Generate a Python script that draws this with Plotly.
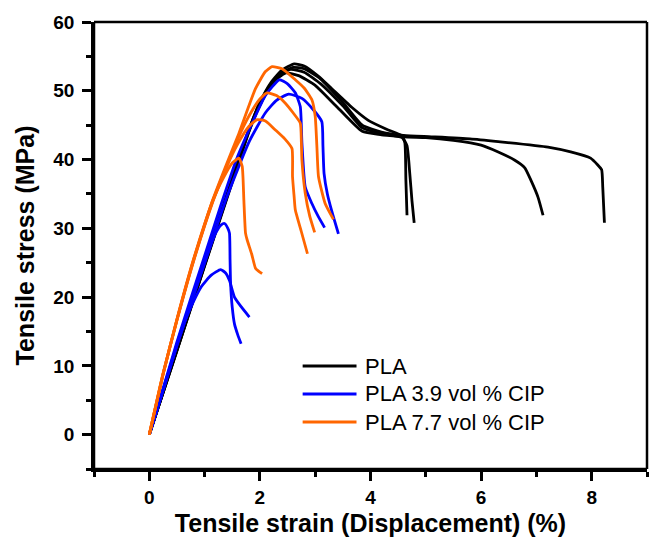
import plotly.graph_objects as go

# ---------------- data ----------------
# PLA (black)
pla_a_x = [0, 0.5, 1.0, 1.5, 1.8, 2.0, 2.2, 2.4, 2.62, 2.8, 3.06, 3.3, 3.66, 3.96, 4.32, 4.56, 4.62, 4.64, 4.66]
pla_a_y = [0, 12.3, 24.7, 37.0, 44.3, 48.3, 51.2, 53.0, 53.9, 53.6, 52.1, 50.3, 47.6, 45.7, 44.3, 43.5, 42.5, 37.0, 31.9]
pla_b_x = [0, 0.5, 1.0, 1.5, 1.8, 2.0, 2.2, 2.47, 2.7, 3.0, 3.4, 3.85, 4.2, 4.57, 4.66, 4.71, 4.75, 4.79]
pla_b_y = [0, 12.5, 25.0, 37.3, 44.3, 48.3, 51.0, 52.6, 52.2, 50.8, 47.6, 44.1, 43.6, 43.2, 42.0, 38.0, 34.0, 30.8]
pla_c_x = [0, 0.5, 1.0, 1.5, 1.8, 2.0, 2.2, 2.4, 2.56, 2.8, 3.1, 3.5, 3.85, 4.2, 4.6, 5.0, 5.5, 6.0, 6.31, 6.61, 6.79, 6.9, 7.03, 7.12]
pla_c_y = [0, 12.3, 24.6, 36.9, 44.1, 48.0, 50.9, 52.6, 53.1, 52.7, 51.0, 47.8, 44.6, 43.8, 43.3, 43.2, 42.8, 42.1, 41.1, 39.9, 38.8, 37.0, 34.5, 31.9]
pla_d_x = [0, 0.5, 1.0, 1.5, 1.8, 2.0, 2.2, 2.4, 2.6, 2.8, 3.1, 3.5, 3.85, 4.2, 4.6, 5.1, 5.8, 6.31, 7.21, 7.62, 7.98, 8.11, 8.18, 8.2, 8.23]
pla_d_y = [0, 12.2, 24.5, 36.7, 44.0, 47.9, 50.8, 52.6, 53.4, 53.2, 51.7, 48.3, 45.0, 44.0, 43.5, 43.3, 43.0, 42.6, 41.8, 41.1, 40.2, 39.2, 38.5, 36.0, 30.8]

# PLA 3.9 vol % CIP (blue)
cip39_a_x = [0, 0.3, 0.58, 0.7, 0.94, 1.12, 1.29, 1.38, 1.45, 1.54, 1.66, 1.81]
cip39_a_y = [0, 7.8, 15.2, 17.6, 21.5, 23.2, 24.0, 23.5, 22.4, 20.0, 18.6, 17.1]
cip39_b_x = [0, 0.5, 1.0, 1.2, 1.3, 1.36, 1.42, 1.45, 1.46, 1.47, 1.5, 1.54, 1.6, 1.66]
cip39_b_y = [0, 13.0, 25.0, 29.3, 30.5, 30.7, 30.0, 29.3, 25.5, 22.0, 18.5, 16.1, 14.5, 13.2]
cip39_c_x = [0, 0.5, 1.0, 1.3, 1.6, 1.9, 2.1, 2.35, 2.5, 2.64, 2.73, 2.76, 2.82, 2.94, 3.05, 3.17]
cip39_c_y = [0, 13.5, 26.0, 33.5, 40.5, 46.0, 49.3, 51.6, 51.0, 49.7, 47.7, 42.4, 36.0, 33.6, 31.8, 30.1]
cip39_d_x = [0, 0.5, 1.0, 1.4, 1.8, 2.1, 2.3, 2.52, 2.76, 2.97, 3.12, 3.14, 3.16, 3.22, 3.3, 3.42]
cip39_d_y = [0, 13.0, 25.0, 34.5, 42.5, 46.8, 48.6, 49.5, 48.9, 47.2, 45.5, 42.0, 38.0, 35.0, 32.5, 29.2]

# PLA 7.7 vol % CIP (orange)
cip77_a_x = [0, 0.25, 0.5, 0.8, 1.15, 1.38, 1.62, 1.92, 2.1, 2.22, 2.4, 2.64, 2.8, 2.94, 3.0, 3.03, 3.06, 3.18, 3.33]
cip77_a_y = [0, 8.8, 16.8, 25.5, 34.2, 39.0, 43.8, 50.3, 52.8, 53.5, 53.2, 51.6, 50.4, 48.7, 46.3, 42.0, 37.5, 33.6, 31.3]
cip77_b_x = [0, 0.25, 0.5, 0.8, 1.15, 1.4, 1.6, 1.8, 2.0, 2.13, 2.3, 2.46, 2.6, 2.73, 2.75, 2.76, 2.82, 2.9, 2.99]
cip77_b_y = [0, 8.8, 16.6, 25.2, 33.9, 39.0, 43.0, 46.3, 48.8, 49.7, 49.3, 48.2, 46.8, 45.3, 42.5, 39.9, 35.1, 31.8, 29.4]
cip77_c_x = [0, 0.25, 0.5, 0.8, 1.15, 1.4, 1.6, 1.8, 1.95, 2.1, 2.28, 2.45, 2.58, 2.59, 2.62, 2.64, 2.75, 2.86]
cip77_c_y = [0, 8.9, 16.7, 25.3, 34.0, 39.0, 42.3, 44.8, 45.8, 45.6, 44.3, 43.0, 41.6, 37.5, 34.5, 32.7, 29.5, 26.3]
cip77_d_x = [0, 0.25, 0.5, 0.8, 1.15, 1.35, 1.5, 1.62, 1.68, 1.71, 1.74, 1.77, 1.85, 1.92, 1.97, 2.04]
cip77_d_y = [0, 8.9, 16.7, 25.4, 34.1, 37.5, 39.5, 40.2, 39.0, 34.1, 29.3, 28.3, 26.3, 24.2, 23.8, 23.4]

x_tickvals = [0, 2, 4, 6, 8]
y_tickvals = [0, 10, 20, 30, 40, 50, 60]
legend_names = ["PLA", "PLA 3.9 vol % CIP", "PLA 7.7 vol % CIP"]

# ---------------- styling ----------------
BLACK = "#000000"
BLUE = "#0000FF"
ORANGE = "#FF6600"
FONT = "Liberation Sans, Arial, sans-serif"
LW = 2.8

groups = [
    (BLACK, [(pla_a_x, pla_a_y), (pla_b_x, pla_b_y), (pla_c_x, pla_c_y), (pla_d_x, pla_d_y)]),
    (BLUE, [(cip39_a_x, cip39_a_y), (cip39_b_x, cip39_b_y), (cip39_c_x, cip39_c_y), (cip39_d_x, cip39_d_y)]),
    (ORANGE, [(cip77_a_x, cip77_a_y), (cip77_b_x, cip77_b_y), (cip77_c_x, cip77_c_y), (cip77_d_x, cip77_d_y)]),
]

fig = go.Figure()
for color, curves in groups:
    for xs, ys in curves:
        fig.add_trace(go.Scatter(x=xs, y=ys, mode="lines", showlegend=False,
                                 line=dict(color=color, width=LW, shape="spline", smoothing=0.5),
                                 hoverinfo="skip"))

axis_common = dict(showgrid=False, zeroline=False, showline=True, linecolor="black",
                   linewidth=2.5, tickcolor="black", tickwidth=2.5, automargin=False)

fig.update_layout(
    template="none",
    width=650, height=542,
    margin=dict(l=94, r=3, t=22, b=73),
    paper_bgcolor="white", plot_bgcolor="white",
    showlegend=False,
    xaxis=dict(range=[-1, 9], tickvals=x_tickvals, ticks="outside", ticklen=9,
               minor=dict(dtick=1, tick0=0, ticks="outside", ticklen=5, tickwidth=2.5, tickcolor="black"),
               tickfont=dict(family=FONT, size=19, color="black", weight="bold"),
               title=dict(text="Tensile strain (Displacement) (%)", standoff=8,
                          font=dict(family=FONT, size=25, color="black", weight="bold")),
               **axis_common),
    yaxis=dict(range=[-5, 60], tickvals=y_tickvals, ticks="outside", ticklen=9,
               minor=dict(dtick=5, tick0=0, ticks="outside", ticklen=5, tickwidth=2.5, tickcolor="black"),
               tickfont=dict(family=FONT, size=19, color="black", weight="bold"),
               ticklabelstandoff=4,
               title=dict(text="Tensile stress (MPa)", standoff=12,
                          font=dict(family=FONT, size=25, color="black", weight="bold")),
               **axis_common),
    xaxis2=dict(range=[-1, 9], overlaying="x", side="top", anchor="y", dtick=1, tick0=0,
                ticks="inside", ticklen=6, showticklabels=False, **axis_common),
    yaxis2=dict(range=[-5, 60], overlaying="y", side="right", anchor="x", dtick=5, tick0=0,
                ticks="inside", ticklen=6, showticklabels=False, **axis_common),
)

# plot frame: four separate edges
for (x0, y0, x1, y1) in [(0, 0, 0, 1), (0, 0, 1, 0), (1, 0, 1, 1), (0, 1, 1, 1)]:
    fig.add_shape(type="line", xref="paper", yref="paper", x0=x0, y0=y0, x1=x1, y1=y1,
                  line=dict(color="black", width=2.5), layer="above")

# legend drawn as shapes + text (long line samples like the original)
leg_colors = [BLACK, BLUE, ORANGE]
leg_y = [0.2304, 0.1678, 0.1051]
for name, col, yy in zip(legend_names, leg_colors, leg_y):
    fig.add_shape(type="line", xref="paper", yref="paper", x0=0.3773, x1=0.4747, y0=yy, y1=yy,
                  line=dict(color=col, width=LW))
    fig.add_annotation(xref="paper", yref="paper", x=0.4856, y=yy, text=name, showarrow=False,
                       xanchor="left", yanchor="middle",
                       font=dict(family=FONT, size=22, color="black"))

fig.write_html("out.html", config={"displayModeBar": False},
               post_script="document.body.style.margin='0px';document.body.style.overflow='hidden';")
